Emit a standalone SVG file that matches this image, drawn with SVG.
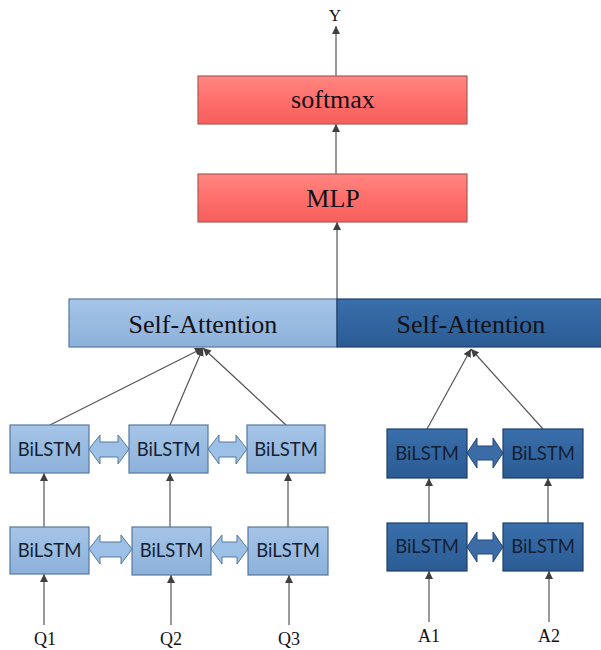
<svg xmlns="http://www.w3.org/2000/svg" width="601" height="650" viewBox="0 0 601 650">
<defs>
<linearGradient id="gRed" x1="0" y1="0" x2="0" y2="1"><stop offset="0" stop-color="#ff8682"/><stop offset="0.5" stop-color="#ff6f6b"/><stop offset="1" stop-color="#f65f5c"/></linearGradient>
<linearGradient id="gLight" x1="0" y1="0" x2="0" y2="1"><stop offset="0" stop-color="#a6c5e7"/><stop offset="1" stop-color="#8cb1da"/></linearGradient>
<linearGradient id="gDark" x1="0" y1="0" x2="0" y2="1"><stop offset="0" stop-color="#396fab"/><stop offset="1" stop-color="#2b5b94"/></linearGradient>
<marker id="ah" viewBox="0 0 10 10" refX="10" refY="5" markerWidth="8" markerHeight="8" markerUnits="userSpaceOnUse" orient="auto">
<path d="M0,0 L10,5 L0,10 Z" fill="#404040"/>
</marker>
<style>
.red{fill:url(#gRed);stroke:#a85a58;stroke-width:1.2}
.lt{fill:url(#gLight);stroke:#56789e;stroke-width:1.2}
.dk{fill:url(#gDark);stroke:#1f3f66;stroke-width:1.2}
.ser{font-family:"Liberation Serif","Times New Roman",serif;fill:#111118;text-anchor:middle}
.san{font-family:Lato,"Liberation Sans",sans-serif;font-size:18.5px;fill:#141f33;text-anchor:middle}
.ln{stroke:#555;stroke-width:1.2;fill:none;marker-end:url(#ah)}
.dal{fill:#9cc0e6;stroke:#56789e;stroke-width:1}
.dad{fill:#3b6ca6;stroke:#24487a;stroke-width:1}
</style>
</defs>
<rect width="601" height="650" fill="#fff"/>

<g id="connectors">
<line class="ln" x1="336" y1="76" x2="336" y2="26"/>
<line class="ln" x1="336" y1="174" x2="336" y2="124"/>
<line class="ln" x1="337" y1="299" x2="337" y2="222"/>
<line class="ln" x1="50" y1="425" x2="203" y2="348"/>
<line class="ln" x1="170" y1="425" x2="203" y2="348"/>
<line class="ln" x1="286" y1="425" x2="203" y2="348"/>
<line class="ln" x1="427" y1="429" x2="471" y2="349"/>
<line class="ln" x1="543" y1="429" x2="471" y2="349"/>
<line class="ln" x1="44" y1="527" x2="44" y2="473"/>
<line class="ln" x1="170" y1="527" x2="170" y2="473"/>
<line class="ln" x1="288" y1="527" x2="288" y2="473"/>
<line class="ln" x1="429" y1="523" x2="429" y2="478"/>
<line class="ln" x1="548" y1="523" x2="548" y2="478"/>
<line class="ln" x1="44" y1="625" x2="44" y2="574"/>
<line class="ln" x1="171" y1="625" x2="171" y2="575"/>
<line class="ln" x1="289" y1="625" x2="289" y2="575"/>
<line class="ln" x1="429" y1="622" x2="429" y2="571"/>
<line class="ln" x1="549" y1="622" x2="549" y2="571"/>
<path class="dal" d="M89,449 L100,435 L100,442 L118,442 L118,435 L129,449 L118,464 L118,457 L100,457 L100,464 Z"/>
<path class="dal" d="M208,449 L219,435 L219,442 L236,442 L236,435 L247,449 L236,464 L236,457 L219,457 L219,464 Z"/>
<path class="dal" d="M89,549 L100,535 L100,542 L121,542 L121,535 L132,549 L121,564 L121,557 L100,557 L100,564 Z"/>
<path class="dal" d="M211,549 L222,535 L222,542 L237,542 L237,535 L248,549 L237,564 L237,557 L222,557 L222,564 Z"/>
<path class="dad" d="M467,453 L477,438 L477,446 L493,446 L493,438 L503,453 L493,468 L493,460 L477,460 L477,468 Z"/>
<path class="dad" d="M467,547 L477,532 L477,540 L493,540 L493,532 L503,547 L493,562 L493,554 L477,554 L477,562 Z"/>
</g>

<g id="softmax"><rect class="red" x="198" y="76" width="269" height="48"/><text class="ser" x="333" y="108" font-size="26">softmax</text></g>
<g id="mlp"><rect class="red" x="198" y="174" width="269" height="48"/><text class="ser" x="333" y="207" font-size="26">MLP</text></g>
<g id="y-label"><text class="ser" x="335" y="21" font-size="17">Y</text></g>

<g id="sa-q"><rect class="lt" x="69" y="299" width="268" height="48"/><text class="ser" x="203" y="333" font-size="26">Self-Attention</text></g>
<g id="sa-a"><rect class="dk" x="337" y="299" width="266" height="48"/><text class="ser" x="471" y="333" font-size="26" fill="#0d1729">Self-Attention</text></g>

<g id="q1-top"><rect class="lt" x="10" y="425" width="79" height="48"/><text class="san" x="49.5" y="455.5">BiLSTM</text></g>
<g id="q2-top"><rect class="lt" x="129" y="425" width="79" height="48"/><text class="san" x="168.5" y="455.5">BiLSTM</text></g>
<g id="q3-top"><rect class="lt" x="247" y="425" width="78" height="48"/><text class="san" x="286" y="455.5">BiLSTM</text></g>
<g id="q1-bot"><rect class="lt" x="10" y="527" width="79" height="47"/><text class="san" x="49.5" y="557">BiLSTM</text></g>
<g id="q2-bot"><rect class="lt" x="132" y="527" width="79" height="48"/><text class="san" x="171.5" y="557">BiLSTM</text></g>
<g id="q3-bot"><rect class="lt" x="248" y="527" width="80" height="48"/><text class="san" x="288" y="557">BiLSTM</text></g>
<g id="a1-top"><rect class="dk" x="387" y="429" width="80" height="49"/><text class="san" x="427" y="459.5" fill="#0b182b">BiLSTM</text></g>
<g id="a2-top"><rect class="dk" x="503" y="429" width="80" height="49"/><text class="san" x="543" y="459.5" fill="#0b182b">BiLSTM</text></g>
<g id="a1-bot"><rect class="dk" x="387" y="523" width="80" height="48"/><text class="san" x="427" y="553" fill="#0b182b">BiLSTM</text></g>
<g id="a2-bot"><rect class="dk" x="503" y="523" width="80" height="48"/><text class="san" x="543" y="553" fill="#0b182b">BiLSTM</text></g>

<g id="inputs">
<text class="ser" x="45" y="645" font-size="18">Q1</text>
<text class="ser" x="171" y="645" font-size="18">Q2</text>
<text class="ser" x="289" y="645" font-size="18">Q3</text>
<text class="ser" x="429" y="642" font-size="18">A1</text>
<text class="ser" x="549" y="642" font-size="18">A2</text>
</g>
</svg>
